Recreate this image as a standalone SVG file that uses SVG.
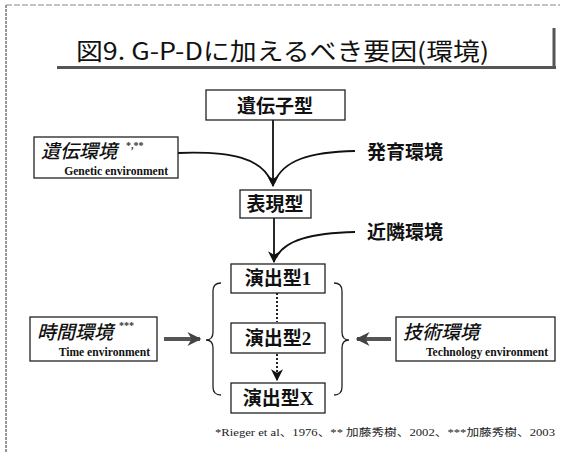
<svg xmlns="http://www.w3.org/2000/svg" width="568" height="452" viewBox="0 0 568 452">
<style>
.box{fill:#fff;stroke:#222;stroke-width:1.3}
.jp{font-family:"Noto Sans CJK JP","Noto Sans",sans-serif;fill:#111}
.node{font-size:19px;font-weight:bold;text-anchor:middle}
.it{font-size:19px;font-style:italic;font-weight:500}
.en{font-family:"Liberation Serif",serif;font-weight:bold;font-size:11.6px;fill:#111;text-anchor:end}
.sup{font-family:"Liberation Serif",serif;font-weight:bold;font-size:10px;fill:#333}
.lbl{font-size:19px;font-weight:bold}
.ser{font-family:"Liberation Serif",serif;font-weight:bold}
.con{fill:none;stroke:#111;stroke-width:1.8}
.dot{fill:none;stroke:#222;stroke-width:2;stroke-dasharray:2 2}
.brace{fill:none;stroke:#222;stroke-width:1.3}
.fat{fill:none;stroke:#555;stroke-width:4}
</style>
<defs>
<marker id="ah" markerUnits="userSpaceOnUse" markerWidth="12" markerHeight="12" viewBox="0 0 10 10" refX="9" refY="5" orient="auto">
<path d="M0,0 L10,5 L0,10 L3,5 z" fill="#111"/>
</marker>
<marker id="fh" markerUnits="userSpaceOnUse" markerWidth="14" markerHeight="14" viewBox="0 0 10 10" refX="9" refY="5" orient="auto">
<path d="M0,0 L10,5 L0,10 L3,5 z" fill="#444"/>
</marker>
</defs>
<rect width="568" height="452" fill="#fff"/>
<g id="frame">
<line x1="6" y1="5" x2="6" y2="452" stroke="#777" stroke-width="1.5" stroke-dasharray="3 1"/>
<line x1="6" y1="5" x2="560" y2="5" stroke="#888" stroke-width="1" stroke-dasharray="6 2"/>
</g>
<g id="title">
<line x1="57" y1="67.5" x2="556" y2="67.5" stroke="#555" stroke-width="3"/>
<line x1="554" y1="28" x2="554" y2="69" stroke="#555" stroke-width="3"/>
<text x="76" y="60" class="jp" font-size="24" textLength="413" lengthAdjust="spacingAndGlyphs">図9. G-P-Dに加えるべき要因(環境)</text>
</g>
<g id="connectors">
<path class="con" d="M273,120 L273,186" marker-end="url(#ah)"/>
<path class="con" d="M178,153 C232,151 262,158 272,183"/>
<path class="con" d="M355,151 C310,152 283,160 274,183"/>
<path class="con" d="M274,218 L274,262" marker-end="url(#ah)"/>
<path class="con" d="M355,232 C312,233 284,240 276,258"/>
<path class="dot" d="M277,293 L277,322"/>
<path class="dot" d="M277,354 L277,380" marker-end="url(#ah)"/>
<path class="brace" d="M221,283 Q213,283 213,291 L213,332 Q213,340 206,340 Q213,340 213,348 L213,387 Q213,395 221,395"/>
<path class="brace" d="M334,283 Q342,283 342,291 L342,332 Q342,340 349,340 Q342,340 342,348 L342,387 Q342,395 334,395"/>
<path class="fat" d="M164,339 L200,339" marker-end="url(#fh)"/>
<path class="fat" d="M391,339 L357,339" marker-end="url(#fh)"/>
</g>
<g id="genotype">
<rect class="box" x="206" y="90" width="139" height="30"/>
<text x="275" y="113" class="jp node">遺伝子型</text>
</g>
<g id="genetic-env">
<rect class="box" x="34" y="137" width="144" height="41"/>
<text x="41" y="158" class="jp it">遺伝環境</text>
<text x="126" y="149" class="sup">*,**</text>
<text x="168" y="174.5" class="en">Genetic environment</text>
</g>
<g id="dev-env">
<text x="367" y="159" class="jp lbl">発育環境</text>
</g>
<g id="phenotype">
<rect class="box" x="240" y="190" width="71" height="28"/>
<text x="275" y="211" class="jp node">表現型</text>
</g>
<g id="neighbor-env">
<text x="367" y="239" class="jp lbl">近隣環境</text>
</g>
<g id="perf1">
<rect class="box" x="231" y="264" width="94" height="29"/>
<text x="278" y="285" class="jp node">演出型<tspan class="ser">1</tspan></text>
</g>
<g id="perf2">
<rect class="box" x="231" y="323" width="94" height="30"/>
<text x="278" y="345" class="jp node">演出型<tspan class="ser">2</tspan></text>
</g>
<g id="perfX">
<rect class="box" x="231" y="383" width="94" height="30"/>
<text x="278" y="405" class="jp node">演出型<tspan class="ser">X</tspan></text>
</g>
<g id="time-env">
<rect class="box" x="30" y="317" width="127" height="44"/>
<text x="37" y="339" class="jp it">時間環境</text>
<text x="119" y="329" class="sup">***</text>
<text x="150" y="356" class="en">Time environment</text>
</g>
<g id="tech-env">
<rect class="box" x="396" y="317" width="159" height="44"/>
<text x="403" y="339" class="jp it">技術環境</text>
<text x="548" y="356" class="en">Technology environment</text>
</g>
<g id="footnote">
<text x="215" y="436" font-family="Liberation Serif,Noto Sans CJK JP,serif" font-size="10.5" fill="#222" textLength="340" lengthAdjust="spacingAndGlyphs">*Rieger et al、1976、** 加藤秀樹、2002、***加藤秀樹、2003</text>
</g>
</svg>
